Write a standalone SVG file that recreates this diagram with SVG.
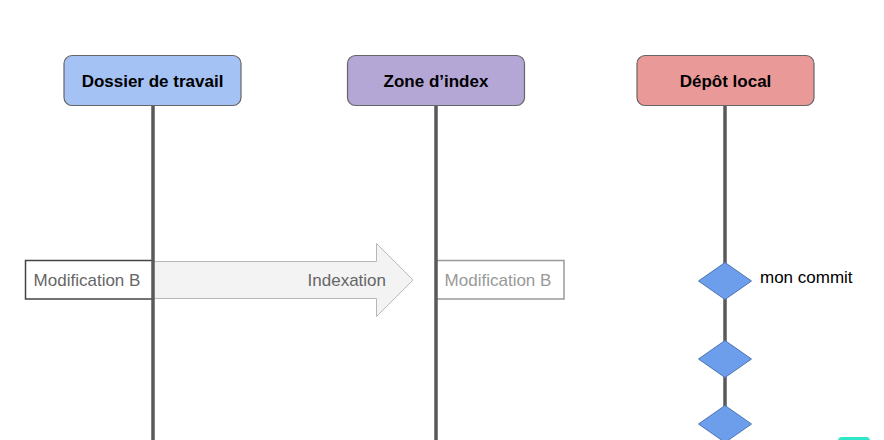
<svg xmlns="http://www.w3.org/2000/svg" width="884" height="440" viewBox="0 0 884 440">
<style>
.hdr{stroke:#666;stroke-width:1.2}
.ht{font-family:"Liberation Sans",Arial,sans-serif;font-size:17px;font-weight:bold;fill:#000;text-anchor:middle}
.life{stroke:#595959;stroke-width:3.5}
.lbl{font-family:"Liberation Sans",Arial,sans-serif;font-size:17px}
.dia{fill:#6d9eeb;stroke:#4f76b3;stroke-width:1}
</style>
<rect width="884" height="440" fill="#fff"/>
<g id="indexation">
<path d="M153,261.5 L376.5,261.5 L376.5,243.5 L413,280 L376.5,316.5 L376.5,298.5 L153,298.5 Z" fill="#f3f3f3" stroke="#b7b7b7" stroke-width="1"/>
<text class="lbl" x="386" y="286" fill="#666" text-anchor="end">Indexation</text>
</g>
<g id="modB1">
<rect x="25.5" y="260.5" width="127.5" height="38.5" fill="#fff" stroke="#444" stroke-width="1.5"/>
<text class="lbl" x="87" y="286" fill="#666" text-anchor="middle">Modification B</text>
</g>
<g id="modB2">
<rect x="436" y="260.5" width="128" height="38.5" fill="#fff" stroke="#999" stroke-width="1.5"/>
<text class="lbl" x="498" y="286" fill="#999" text-anchor="middle">Modification B</text>
</g>
<g id="connectors">
<line class="life" x1="153" y1="105" x2="153" y2="440"/>
<line class="life" x1="436" y1="105" x2="436" y2="440"/>
<line class="life" x1="725" y1="105" x2="725" y2="440"/>
</g>
<g id="dossier">
<rect class="hdr" x="64" y="55.5" width="177" height="50" rx="8" fill="#a4c2f4"/>
<text class="ht" x="152.5" y="87">Dossier de travail</text>
</g>
<g id="zone">
<rect class="hdr" x="347.5" y="55.5" width="177" height="50" rx="8" fill="#b4a7d6"/>
<text class="ht" x="436" y="87">Zone d’index</text>
</g>
<g id="depot">
<rect class="hdr" x="637" y="55.5" width="177" height="50" rx="8" fill="#ea9999"/>
<text class="ht" x="725.5" y="87">Dépôt local</text>
</g>
<g id="commit1">
<polygon class="dia" points="725,262.5 751.5,281 725,299.5 698.5,281"/>
<text class="lbl" x="760" y="283" fill="#000">mon commit</text>
</g>
<g id="commit2">
<polygon class="dia" points="725,340.5 751.5,359 725,377.5 698.5,359"/>
</g>
<g id="commit3">
<polygon class="dia" points="725,405.5 751.5,424 725,442.5 698.5,424"/>
</g>
<rect x="838" y="437" width="32" height="10" rx="4" fill="#2ee6c8"/>
</svg>
